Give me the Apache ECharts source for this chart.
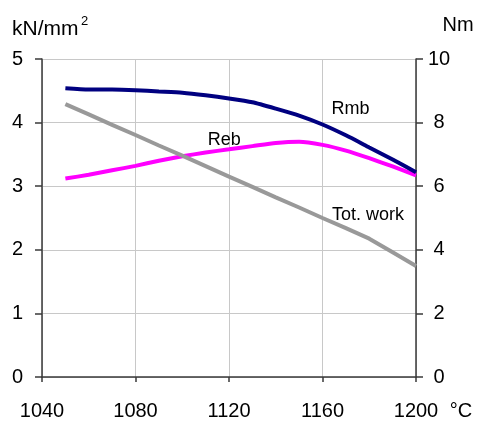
<!DOCTYPE html>
<html>
<head>
<meta charset="utf-8">
<script src="https://cdn.jsdelivr.net/npm/echarts@6/dist/echarts.min.js"></script>
<style>html,body{margin:0;padding:0;background:#fff;}#c{width:482px;height:421px;}</style>
</head>
<body>
<div id="c"></div>
<script>
const temps   = [1050, 1060, 1070, 1080, 1090, 1100, 1110, 1120, 1130, 1140, 1150, 1160, 1170, 1180, 1190, 1200];
const rmb     = [4.54, 4.52, 4.52, 4.51, 4.49, 4.47, 4.43, 4.38, 4.32, 4.22, 4.11, 3.97, 3.80, 3.61, 3.42, 3.22];
const reb     = [3.12, 3.18, 3.25, 3.32, 3.40, 3.47, 3.53, 3.58, 3.63, 3.68, 3.70, 3.65, 3.56, 3.44, 3.31, 3.17];
const totWork = [8.58, 8.26, 7.93, 7.61, 7.28, 6.96, 6.63, 6.30, 5.98, 5.65, 5.33, 5.00, 4.68, 4.35, 3.92, 3.49];
const seriesNames = ['Rmb', 'Reb', 'Tot. work'];
const leftUnit = 'kN/mm';
const leftUnitSup = '2';
const rightUnit = 'Nm';
const xUnit = '°C';

const pair = (xs, ys) => xs.map((x, i) => [x, ys[i]]);
const FONT = 'Liberation Sans, Arial, sans-serif';
const FS = 20;
const axisLineStyle = { color: '#3a3a3a', width: 1.5 };
const gridLineStyle = { color: '#c8c8c8', width: 1 };

const chart = echarts.init(document.getElementById('c'), null, { renderer: 'canvas' });
chart.setOption({
  backgroundColor: '#ffffff',
  animation: false,
  grid: { left: 42, right: 66, top: 59, bottom: 43 },
  xAxis: {
    type: 'value', min: 1040, max: 1200, interval: 40,
    axisLine: { show: true, lineStyle: axisLineStyle },
    axisTick: { show: true, length: 5, lineStyle: axisLineStyle },
    axisLabel: { fontSize: FS, color: '#000', fontFamily: FONT, margin: 24, formatter: v => String(v) },
    splitLine: { show: true, lineStyle: gridLineStyle }
  },
  yAxis: [
    {
      type: 'value', min: 0, max: 5, interval: 1, position: 'left',
      axisLine: { show: true, lineStyle: axisLineStyle },
      axisTick: { show: true, length: 7, lineStyle: axisLineStyle },
      axisLabel: { fontSize: FS, color: '#000', fontFamily: FONT, margin: 19 },
      splitLine: { show: true, lineStyle: gridLineStyle }
    },
    {
      type: 'value', min: 0, max: 10, interval: 2, position: 'right',
      axisLine: { show: true, lineStyle: axisLineStyle },
      axisTick: { show: true, length: 7, lineStyle: axisLineStyle },
      axisLabel: { fontSize: FS, color: '#000', fontFamily: FONT, margin: 23, align: 'center' },
      splitLine: { show: false }
    }
  ],
  series: [
    {
      name: seriesNames[1], type: 'line', data: pair(temps, reb), yAxisIndex: 0,
      showSymbol: false, smooth: 0.2, lineStyle: { color: '#ff00ff', width: 4 },
      markPoint: {
        symbol: 'circle', symbolSize: 0,
        label: { show: true, formatter: seriesNames[1], fontSize: 18, color: '#000', fontFamily: FONT, position: 'inside' },
        data: [{ coord: [1118, 3.73] }]
      }
    },
    {
      name: seriesNames[2], type: 'line', data: pair(temps, totWork), yAxisIndex: 1,
      showSymbol: false, lineStyle: { color: '#999999', width: 4 },
      markPoint: {
        symbol: 'circle', symbolSize: 0,
        label: { show: true, formatter: seriesNames[2], fontSize: 18, color: '#000', fontFamily: FONT, position: 'inside' },
        data: [{ coord: [1179.5, 5.1] }]
      }
    },
    {
      name: seriesNames[0], type: 'line', data: pair(temps, rmb), yAxisIndex: 0,
      showSymbol: false, smooth: 0.2, lineStyle: { color: '#000080', width: 4 },
      markPoint: {
        symbol: 'circle', symbolSize: 0,
        label: { show: true, formatter: seriesNames[0], fontSize: 18, color: '#000', fontFamily: FONT, position: 'inside' },
        data: [{ coord: [1172, 4.22] }]
      }
    }
  ],
  graphic: [
    {
      type: 'text', x: 12, y: 29,
      style: { text: leftUnit, fontSize: 21, fontFamily: FONT, fill: '#000', align: 'left', verticalAlign: 'middle' }
    },
    {
      type: 'text', x: 84.5, y: 21,
      style: { text: leftUnitSup, fontSize: 13, fontFamily: FONT, fill: '#000', align: 'center', verticalAlign: 'middle' }
    },
    {
      type: 'text', x: 458, y: 25,
      style: { text: rightUnit, fontSize: FS, fontFamily: FONT, fill: '#000', align: 'center', verticalAlign: 'middle' }
    },
    {
      type: 'text', x: 461, y: 411,
      style: { text: xUnit, fontSize: FS, fontFamily: FONT, fill: '#000', align: 'center', verticalAlign: 'middle' }
    }
  ]
});
</script>
</body>
</html>
